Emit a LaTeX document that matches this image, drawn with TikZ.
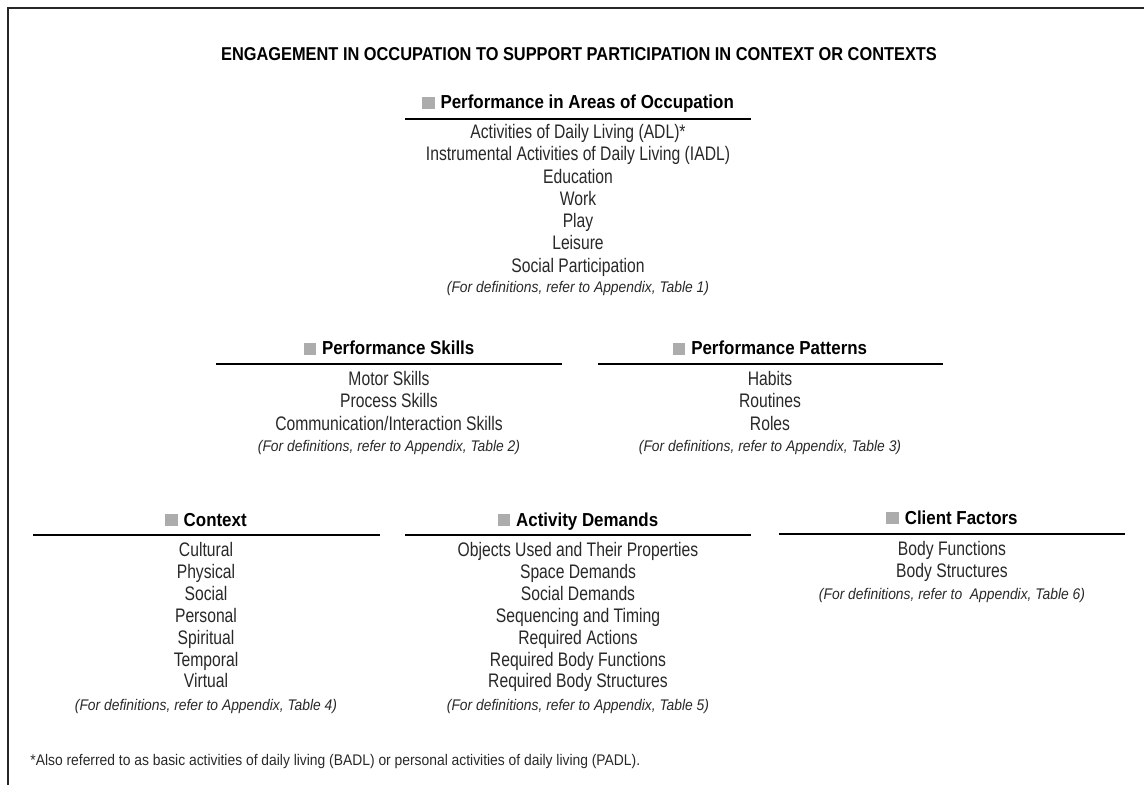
\documentclass[tikz,border=0pt]{standalone}
\usepackage{fontspec}
\setmainfont{Liberation Sans}[FakeStretch=0.8]
\newfontfamily\titlefont{Liberation Sans}[FakeStretch=0.88]
\newfontfamily\headfont{Liberation Sans}[FakeStretch=0.9]
\newfontfamily\notefont{Liberation Sans}[FakeStretch=0.9]
\definecolor{sqgray}{RGB}{172,172,172}
\definecolor{ink}{RGB}{40,40,40}

\tikzset{
	title/.style={font=\titlefont\fontsize{9.3}{11}\selectfont\bfseries, anchor=base},
	head/.style={font=\headfont\fontsize{9.4}{11}\selectfont\bfseries, anchor=base},
	item/.style={font=\fontsize{9.8}{12}\selectfont, text=ink, anchor=base},
	note/.style={font=\notefont\fontsize{7.7}{9}\selectfont\itshape, text=ink, anchor=base},
	hrule/.style={line width=0.7pt},
	frame/.style={line width=1pt, black!85},
}
\newcommand{\graysq}{\textcolor{sqgray}{\rule{6.2pt}{6pt}}\hspace{3pt}}

\begin{document}
\begin{tikzpicture}[x=0.5pt,y=-0.5pt]
	\useasboundingbox (0,0) rectangle (1144,785);
	% frame (left and top only)
	\draw[frame] (8,785) -- (8,8) -- (1144,8);

	\node[title] (title) at (579,61) {ENGAGEMENT IN OCCUPATION TO SUPPORT PARTICIPATION IN CONTEXT OR CONTEXTS};

	% Performance in Areas of Occupation
	\node[head] (poa) at (578,109) {\graysq Performance in Areas of Occupation};
	\draw[hrule] (405,119) -- (751,119);
	\foreach \t [count=\i] in {{Activities of Daily Living (ADL)*},{Instrumental Activities of Daily Living (IADL)},Education,Work,Play,Leisure,Social Participation}
		\node[item] (poa-\i) at (578,138.5+22.3*\i-22.3) {\t};
	\node[note] (poa-n) at (578,292.5) {(For definitions, refer to Appendix, Table 1)};

	% Performance Skills
	\node[head] (ps) at (389,355) {\graysq Performance Skills};
	\draw[hrule] (216,364) -- (562,364);
	\foreach \t [count=\i] in {Motor Skills,Process Skills,Communication/Interaction Skills}
		\node[item] (ps-\i) at (389,385.5+22.5*\i-22.5) {\t};
	\node[note] (ps-n) at (389,451.5) {(For definitions, refer to Appendix, Table 2)};

	% Performance Patterns
	\node[head] (pp) at (770,355) {\graysq Performance Patterns};
	\draw[hrule] (598,364) -- (943,364);
	\foreach \t [count=\i] in {Habits,Routines,Roles}
		\node[item] (pp-\i) at (770,385.5+22.5*\i-22.5) {\t};
	\node[note] (pp-n) at (770,451.5) {(For definitions, refer to Appendix, Table 3)};

	% Context
	\node[head] (ctx) at (206,526) {\graysq Context};
	\draw[hrule] (33,535) -- (380,535);
	\foreach \t [count=\i] in {Cultural,Physical,Social,Personal,Spiritual,Temporal,Virtual}
		\node[item] (ctx-\i) at (206,556.5+21.9*\i-21.9) {\t};
	\node[note] (ctx-n) at (206,710.5) {(For definitions, refer to Appendix, Table 4)};

	% Activity Demands
	\node[head] (ad) at (578,526) {\graysq Activity Demands};
	\draw[hrule] (405,535) -- (751,535);
	\foreach \t [count=\i] in {Objects Used and Their Properties,Space Demands,Social Demands,Sequencing and Timing,Required Actions,Required Body Functions,Required Body Structures}
		\node[item] (ad-\i) at (578,556.5+21.9*\i-21.9) {\t};
	\node[note] (ad-n) at (578,710.5) {(For definitions, refer to Appendix, Table 5)};

	% Client Factors
	\node[head] (cf) at (952,524) {\graysq Client Factors};
	\draw[hrule] (779,534) -- (1125,534);
	\foreach \t [count=\i] in {Body Functions,Body Structures}
		\node[item] (cf-\i) at (952,555.5+22*\i-22) {\t};
	\node[note] (cf-n) at (952,599.5) {(For definitions, refer to\ \ Appendix, Table 6)};

	% footnote
	\node[item, anchor=base west, inner sep=0pt, font=\notefont\fontsize{7.7}{9}\selectfont] (foot) at (30,765) {*Also referred to as basic activities of daily living (BADL) or personal activities of daily living (PADL).};
\end{tikzpicture}
\end{document}
